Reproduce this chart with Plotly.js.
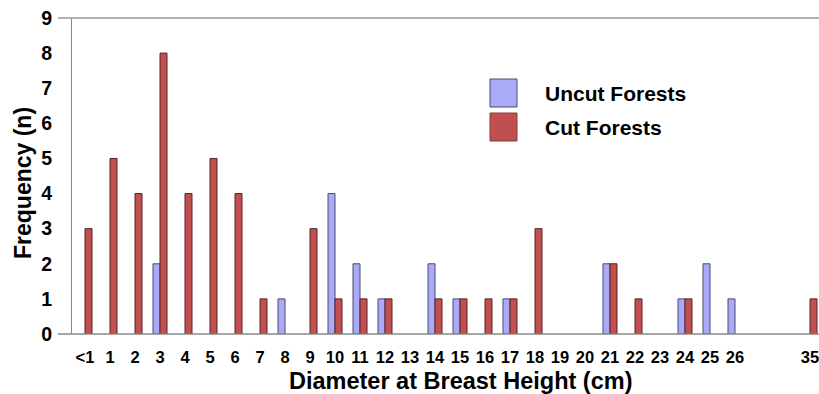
<!DOCTYPE html>
<html>
<head>
<meta charset="utf-8">
<script src="https://cdn.plot.ly/plotly-3.0.1.min.js"></script>
<style>html,body{margin:0;padding:0;background:#fff;}#chart{width:819px;height:394px;}</style>
</head>
<body>
<div id="chart"></div>
<script>
// Diameter classes (two unlabeled gap slots between 26 and 35)
var categories = ["<1","1","2","3","4","5","6","7","8","9","10","11","12","13","14","15","16","17","18","19","20","21","22","23","24","25","26"," ","  ","35"];
var uncutForests = [null,null,null,2,null,null,null,null,1,null,4,2,1,null,2,1,null,1,null,null,null,2,null,null,1,2,1,null,null,null];
var cutForests   = [3,5,4,8,4,5,4,1,null,3,1,1,1,null,1,1,1,1,3,null,null,2,1,null,1,null,null,null,null,1];
var yTicks = [0,1,2,3,4,5,6,7,8,9];
var seriesNames = ["Uncut Forests","Cut Forests"];

var blueFill = "#aaaaf8", blueLine = "#4a4a70";
var redFill = "#c0504f", redLine = "#5a2222";
var font = "'Liberation Sans', Arial, sans-serif";

function b(s){ return "<b>" + s.replace("<","&lt;") + "</b>"; }

var traces = [
  {type:"bar", name:seriesNames[0], x:categories, y:uncutForests,
   marker:{color:blueFill, line:{color:blueLine, width:1}}, showlegend:false, hoverinfo:"x+y"},
  {type:"bar", name:seriesNames[1], x:categories, y:cutForests,
   marker:{color:redFill, line:{color:redLine, width:1}}, showlegend:false, hoverinfo:"x+y"}
];

var plotW = 819 - 72;
var ext = -14 / plotW;

var layout = {
  width:819, height:394,
  margin:{l:72, r:0, t:18, b:60},
  paper_bgcolor:"#fff", plot_bgcolor:"#fff",
  barmode:"group", bargap:0.44, bargroupgap:0,
  font:{family:font, color:"#000"},
  xaxis:{
    type:"category", categoryorder:"array", categoryarray:categories,
    tickvals:categories, ticktext:categories.map(b),
    range:[-0.52, 29.36], fixedrange:true,
    showgrid:false, zeroline:false, showline:false,
    ticks:"outside", ticklen:8, tickcolor:"rgba(0,0,0,0)",
    tickfont:{family:font, size:16.5, color:"#000"}
  },
  yaxis:{
    range:[0,9], tickvals:yTicks, ticktext:yTicks.map(function(v){return b(String(v));}), fixedrange:true,
    showgrid:false, zeroline:false, showline:true, linecolor:"#888", linewidth:1,
    ticks:"outside", ticklen:15, tickcolor:"rgba(0,0,0,0)",
    tickfont:{family:font, size:19.5, color:"#000"}
  },
  shapes:[
    {type:"line", xref:"paper", yref:"paper", x0:ext, x1:1, y0:0, y1:0, line:{color:"#888", width:1.5}},
    {type:"line", xref:"paper", yref:"paper", x0:ext, x1:1, y0:1, y1:1, line:{color:"#999", width:1.5}},
    {type:"rect", xref:"paper", yref:"paper",
     x0:(490-72)/plotW, x1:(517-72)/plotW, y0:(334-107)/316, y1:(334-79)/316,
     fillcolor:blueFill, line:{color:blueLine, width:1}},
    {type:"rect", xref:"paper", yref:"paper",
     x0:(490-72)/plotW, x1:(517-72)/plotW, y0:(334-141)/316, y1:(334-113)/316,
     fillcolor:redFill, line:{color:"#8a3a3a", width:1}}
  ],
  annotations:[
    {text:b("Frequency (n)"), xref:"paper", yref:"paper", x:(23-72)/plotW, y:(334-183)/316,
     xanchor:"center", yanchor:"middle", textangle:-90, showarrow:false,
     font:{family:font, size:23, color:"#000"}},
    {text:b("Diameter at Breast Height (cm)"), xref:"paper", yref:"paper", x:(460-72)/plotW, y:(334-381)/316,
     xanchor:"center", yanchor:"middle", showarrow:false,
     font:{family:font, size:23.5, color:"#000"}},
    {text:b(seriesNames[0]), xref:"paper", yref:"paper", x:(543-72)/plotW, y:(334-94)/316,
     xanchor:"left", yanchor:"middle", showarrow:false,
     font:{family:font, size:21, color:"#000"}},
    {text:b(seriesNames[1]), xref:"paper", yref:"paper", x:(543-72)/plotW, y:(334-128)/316,
     xanchor:"left", yanchor:"middle", showarrow:false,
     font:{family:font, size:21, color:"#000"}}
  ]
};

Plotly.newPlot("chart", traces, layout, {displayModeBar:false, staticPlot:true});
</script>
</body>
</html>
